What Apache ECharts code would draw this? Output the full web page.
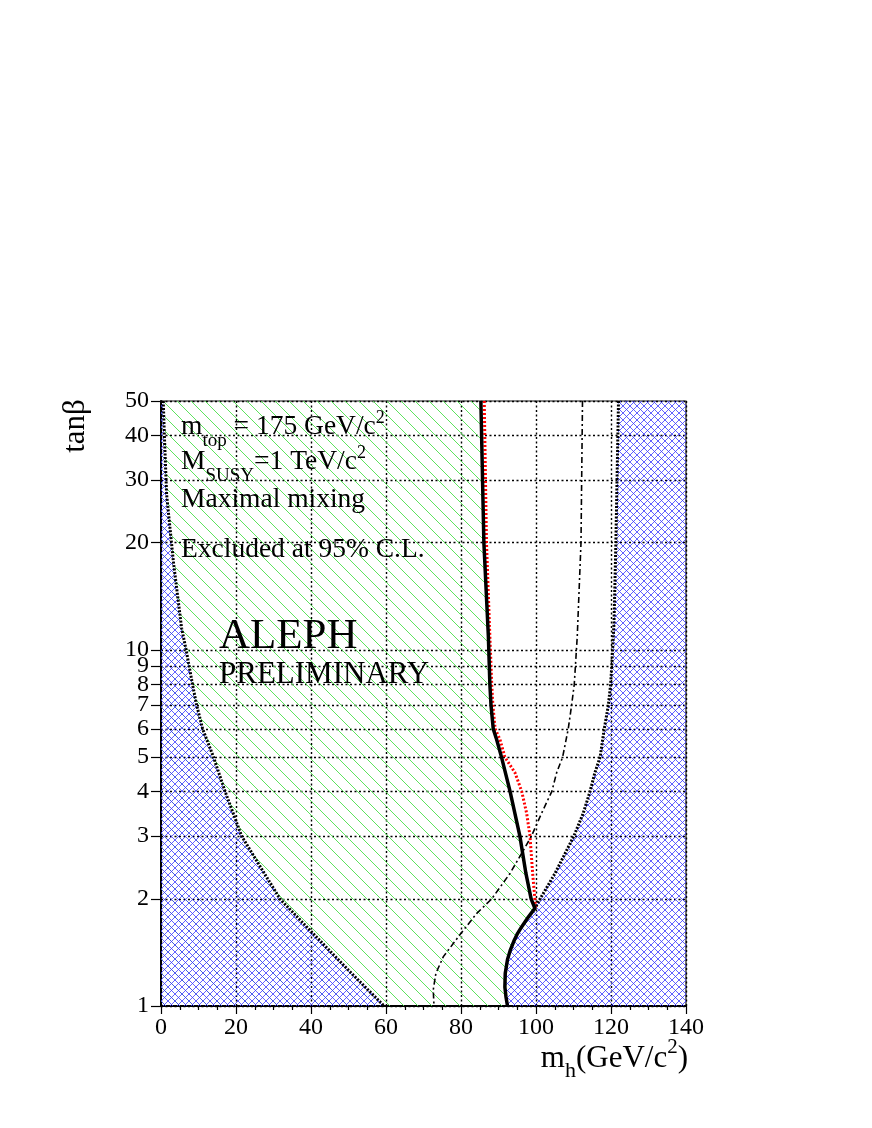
<!DOCTYPE html>
<html>
<head>
<meta charset="utf-8">
<script src="https://cdn.jsdelivr.net/npm/echarts@6/dist/echarts.min.js"></script>
<style>
  html, body { margin: 0; padding: 0; background: #fff; }
  #chart { width: 872px; height: 1128px; }
</style>
</head>
<body>
<div id="chart"></div>
<script>
  var FONT = '"Liberation Serif", "Times New Roman", serif';

  // axis ticks
  var yTicks = [1, 2, 3, 4, 5, 6, 7, 8, 9, 10, 20, 30, 40, 50];

  // observed 95% CL exclusion (thick black)
  var obsMh   = [85.3, 86.1, 87.3, 87.7, 88.0, 88.6, 89.5, 90.8, 93.1, 95.7, 97.3, 98.7, 99.7, 98.0, 96.2, 95.1, 94.2, 93.2, 92.4, 91.8, 91.7, 92.0, 92.4];
  var obsTanb = [50, 20, 10.9, 8, 7, 6, 5.6, 5, 4, 3, 2.36, 2, 1.88, 1.78, 1.67, 1.6, 1.53, 1.44, 1.35, 1.235, 1.13, 1.06, 1];

  // expected exclusion (red dotted)
  var expMh   = [86.2, 86.8, 87.7, 88.2, 88.5, 89.1, 90.4, 91.7, 94.4, 96.2, 97.5, 98.4, 99.1, 99.7, 99.8];
  var expTanb = [50, 20, 10.9, 8, 7, 6, 5.6, 5, 4.52, 4, 3.48, 3, 2.36, 2, 1.88];

  // dash-dotted curve
  var ddMh   = [112.4, 112.0, 111.0, 110.2, 109.5, 108.6, 107.1, 105.5, 104.2, 101.5, 98.8, 96.2, 93.1, 88.2, 84.2, 80.0, 75.3, 73.3, 72.6, 72.8];
  var ddTanb = [50, 20, 10.9, 8, 7, 6, 5, 4.52, 4, 3.48, 3, 2.685, 2.36, 2, 1.82, 1.6, 1.376, 1.235, 1.11, 1];

  // theoretically excluded, left edge
  var leftMh   = [0.6, 0.9, 1.5, 3.3, 5.5, 6.7, 8.4, 9.5, 11.1, 14.0, 17.1, 21.5, 31.7, 40.5, 50.0, 59.5];
  var leftTanb = [50, 40, 27.3, 17.7, 11.5, 10, 8, 7, 6, 5, 4, 3, 2, 1.6, 1.26, 1];

  // theoretically excluded, right edge
  var rightMh   = [122.0, 121.3, 120.8, 120.2, 119.9, 119.3, 118.2, 117.1, 115.7, 114.4, 112.6, 110.1, 105.1, 101.1, 99.7];
  var rightTanb = [50, 20, 11.9, 9, 8, 7, 6, 5, 4.52, 4, 3.48, 3, 2.36, 2, 1.88];

  function zip(xs, ys) { return xs.map(function (x, i) { return [x, ys[i]]; }); }

  function hatch(size, color, lw, cross) {
    var c = document.createElement('canvas');
    c.width = size; c.height = size;
    var g = c.getContext('2d');
    g.strokeStyle = color; g.lineWidth = lw;
    g.beginPath();
    for (var k = -1; k <= 1; k++) {
      g.moveTo(k * size, 0); g.lineTo(k * size + size, size);
      if (cross) { g.moveTo(k * size + size, 0); g.lineTo(k * size, size); }
    }
    g.stroke();
    return { image: c, repeat: 'repeat' };
  }
  var greenFill = hatch(14, '#4be04b', 0.9, false);
  var blueFill = hatch(7, '#3a3aff', 0.8, true);

  // polygons (drawn through the axes)
  var greenPoly = [[0, 1], [0, 50]].concat(zip(obsMh, obsTanb));
  var leftPoly = [[0, 50]].concat(zip(leftMh, leftTanb), [[0, 1]]);
  var obsLow = zip(obsMh, obsTanb).slice(obsTanb.indexOf(1.88) + 1);
  var rightPoly = [[140, 50]].concat(zip(rightMh, rightTanb), obsLow, [[140, 1]]);

  function polySeries(pts, fill) {
    return {
      type: 'custom',
      data: [[0, 1]],
      silent: true,
      z: 1,
      renderItem: function (params, api) {
        return {
          type: 'polygon',
          shape: { points: pts.map(function (p) { return api.coord(p); }) },
          style: { fill: fill, stroke: null }
        };
      }
    };
  }

  function lineSeries(pts, color, width, type) {
    return {
      type: 'line',
      data: pts,
      showSymbol: false,
      silent: true,
      z: 3,
      lineStyle: { color: color, width: width, type: type },
      smooth: false
    };
  }

  // text helper: segments [text, size, baseline shift]
  var measure = document.createElement('canvas').getContext('2d');
  function textLine(x, base, segs, right) {
    var widths = segs.map(function (s) {
      measure.font = s[1] + 'px ' + FONT;
      return measure.measureText(s[0]).width;
    });
    var total = widths.reduce(function (a, b) { return a + b; }, 0);
    var cx = right ? x - total : x;
    return segs.map(function (s, i) {
      var el = {
        type: 'text', x: cx, y: base + s[2] - 0.34 * s[1], z: 100,
        style: { text: s[0], font: s[1] + 'px ' + FONT, fill: '#000', verticalAlign: 'middle' }
      };
      cx += widths[i];
      return el;
    });
  }

  var graphics = [].concat(
    textLine(181, 436, [['m', 27.5, 0], ['top', 19, 11], [' = 175 GeV/c', 27.5, 0], ['2', 18, -12]]),
    textLine(181, 471, [['M', 27.5, 0], ['SUSY', 19, 11], ['=1 TeV/c', 27.5, 0], ['2', 18, -12]]),
    textLine(181, 509, [['Maximal mixing', 27.5, 0]]),
    textLine(181, 559, [['Excluded at 95% C.L.', 27.5, 0]]),
    textLine(219, 651, [['ALEPH', 43, 0]]),
    textLine(219, 685, [['PRELIMINARY', 31, 0]]),
    textLine(688, 1069, [['m', 31, 0], ['h', 22, 10], ['(GeV/c', 31, 0], ['2', 21, -14], [')', 31, 0]], true),
    [{
      type: 'text', x: 76, y: 426, rotation: Math.PI / 2, z: 100,
      style: { text: 'tanβ', font: '31px ' + FONT, fill: '#000', align: 'center', verticalAlign: 'middle' }
    }]
  );

  var chart = echarts.init(document.getElementById('chart'));
  chart.setOption({
    animation: false,
    backgroundColor: '#fff',
    grid: { left: 161, top: 401, width: 525, height: 605, show: true, borderColor: '#111', borderWidth: 1.2, backgroundColor: 'transparent' },
    xAxis: {
      type: 'value', min: 0, max: 140, interval: 20,
      axisLine: { show: true, onZero: false, lineStyle: { color: '#000', width: 2 } },
      axisTick: { show: true, inside: false, length: 8, lineStyle: { color: '#000', width: 1.2 } },
      minorTick: { show: true, splitNumber: 4, length: 4, lineStyle: { color: '#000', width: 1.2 } },
      axisLabel: { margin: 10, fontFamily: FONT, fontSize: 24, color: '#000' },
      splitLine: { show: true, lineStyle: { color: '#000', width: 1.4, type: [2, 2.5] } }
    },
    yAxis: {
      type: 'log', logBase: 10, min: 1, max: 50,
      axisLine: { show: true, onZero: false, lineStyle: { color: '#000', width: 2 } },
      axisTick: { show: true, inside: false, length: 10, customValues: yTicks, lineStyle: { color: '#000', width: 1.2 } },
      axisLabel: { margin: 12, fontFamily: FONT, fontSize: 24, color: '#000', customValues: yTicks, showMinLabel: true, showMaxLabel: true },
      splitLine: { show: true, lineStyle: { color: '#000', width: 1.4, type: [2, 2.5] } },
      minorTick: { show: false }
    },
    series: [
      polySeries(greenPoly, greenFill),
      polySeries(leftPoly, blueFill),
      polySeries(rightPoly, blueFill),
      lineSeries(zip(leftMh, leftTanb), '#000', 3, [2, 1.5]),
      lineSeries(zip(rightMh, rightTanb), '#000', 3, [2, 1.5]),
      lineSeries(zip(ddMh, ddTanb), '#000', 1.6, [6, 3, 2, 3]),
      lineSeries(zip(expMh, expTanb), '#ff0000', 3, [2, 2]),
      lineSeries(zip(obsMh, obsTanb), '#000', 3.5, 'solid')
    ],
    graphic: graphics
  });
</script>
</body>
</html>
